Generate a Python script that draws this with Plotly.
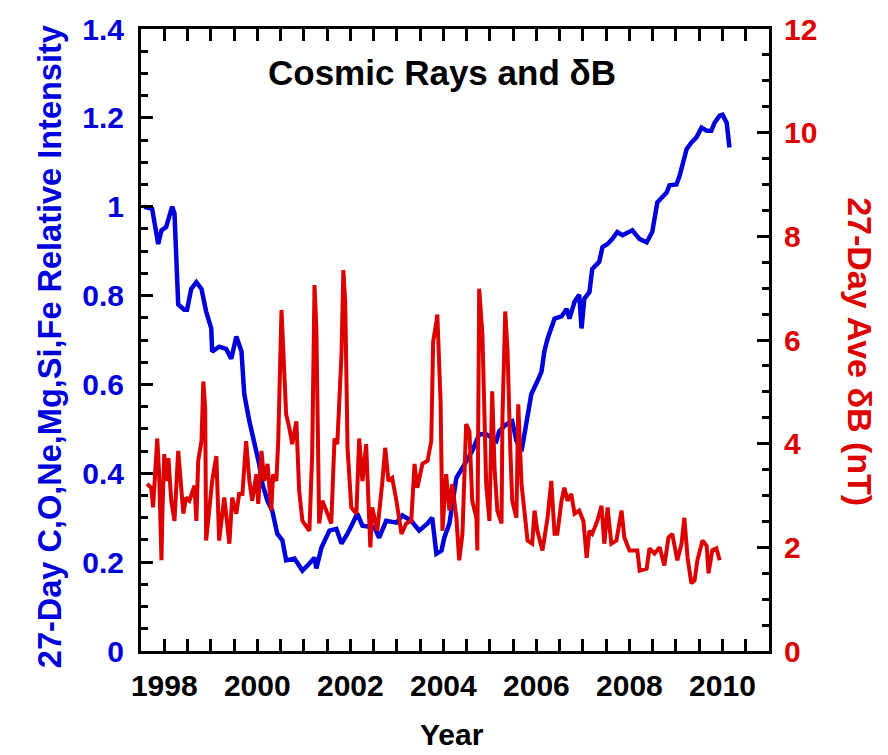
import plotly.graph_objects as go

# Cosmic ray relative intensity (blue, left axis)
cr_year = [1997.57, 1997.74, 1997.87, 1997.94, 1998.04, 1998.17, 1998.22, 1998.26, 1998.30, 1998.43,
           1998.49, 1998.58, 1998.69, 1998.80, 1998.90, 1999.01, 1999.03, 1999.18, 1999.33, 1999.44,
           1999.51, 1999.55, 1999.66, 1999.72, 1999.83, 1999.94, 2000.04, 2000.11, 2000.22, 2000.32,
           2000.43, 2000.54, 2000.62, 2000.80, 2000.97, 2001.12, 2001.23, 2001.27, 2001.38, 2001.55,
           2001.70, 2001.81, 2001.94, 2002.15, 2002.26, 2002.52, 2002.62, 2002.77, 2002.99, 2003.12,
           2003.31, 2003.48, 2003.66, 2003.76, 2003.85, 2003.96, 2004.02, 2004.13, 2004.28, 2004.41,
           2004.62, 2004.77, 2004.92, 2005.14, 2005.20, 2005.35, 2005.48, 2005.57, 2005.68, 2005.78,
           2005.89, 2006.02, 2006.11, 2006.17, 2006.24, 2006.39, 2006.54, 2006.65, 2006.71, 2006.82,
           2006.92, 2006.97, 2007.03, 2007.14, 2007.20, 2007.35, 2007.42, 2007.53, 2007.63, 2007.74,
           2007.85, 2008.06, 2008.22, 2008.37, 2008.49, 2008.60, 2008.80, 2008.86, 2009.01, 2009.08,
           2009.23, 2009.33, 2009.44, 2009.55, 2009.66, 2009.76, 2009.83, 2009.94, 2010.00, 2010.09,
           2010.15]
cr_intensity = [1.00, 0.995, 0.916, 0.947, 0.954, 1.00, 0.985, 0.876, 0.78, 0.768,
                0.768, 0.815, 0.83, 0.815, 0.764, 0.726, 0.674, 0.685, 0.68, 0.658,
                0.69, 0.708, 0.674, 0.578, 0.517, 0.466, 0.421, 0.376, 0.338, 0.316,
                0.264, 0.249, 0.204, 0.208, 0.181, 0.197, 0.21, 0.186, 0.233, 0.271,
                0.275, 0.242, 0.264, 0.309, 0.282, 0.278, 0.255, 0.293, 0.289, 0.305,
                0.293, 0.271, 0.287, 0.30, 0.219, 0.226, 0.255, 0.287, 0.39, 0.412,
                0.45, 0.488, 0.488, 0.473, 0.495, 0.51, 0.517, 0.473, 0.45, 0.51,
                0.578, 0.607, 0.629, 0.674, 0.703, 0.748, 0.753, 0.77, 0.748, 0.786,
                0.802, 0.726, 0.793, 0.808, 0.86, 0.876, 0.909, 0.916, 0.927, 0.943,
                0.936, 0.947, 0.927, 0.92, 0.943, 1.01, 1.032, 1.048, 1.05, 1.07,
                1.13, 1.144, 1.156, 1.178, 1.171, 1.171, 1.189, 1.205, 1.207, 1.189,
                1.133]

# 27-day average delta B (red, right axis)
db_year = [1997.63, 1997.72, 1997.76, 1997.85, 1997.89, 1997.94, 1997.96, 1998.00, 1998.04, 1998.09,
           1998.15, 1998.22, 1998.30, 1998.37, 1998.41, 1998.47, 1998.54, 1998.65, 1998.69, 1998.73,
           1998.80, 1998.84, 1998.88, 1998.90, 1998.97, 1999.03, 1999.12, 1999.18, 1999.29, 1999.40,
           1999.46, 1999.55, 1999.61, 1999.68, 1999.76, 1999.83, 1999.89, 1999.98, 2000.02, 2000.09,
           2000.15, 2000.22, 2000.30, 2000.34, 2000.41, 2000.45, 2000.52, 2000.56, 2000.62, 2000.69,
           2000.75, 2000.84, 2000.90, 2000.97, 2001.12, 2001.18, 2001.23, 2001.27, 2001.33, 2001.40,
           2001.48, 2001.59, 2001.66, 2001.72, 2001.81, 2001.85, 2001.89, 2001.94, 2002.02, 2002.13,
           2002.19, 2002.26, 2002.34, 2002.43, 2002.47, 2002.58, 2002.69, 2002.75, 2002.82, 2002.90,
           2002.99, 2003.10, 2003.20, 2003.31, 2003.38, 2003.44, 2003.55, 2003.66, 2003.74, 2003.78,
           2003.85, 2003.87, 2003.94, 2003.98, 2004.06, 2004.13, 2004.19, 2004.28, 2004.34, 2004.41,
           2004.49, 2004.56, 2004.62, 2004.71, 2004.73, 2004.77, 2004.84, 2004.92, 2004.99, 2005.05,
           2005.10, 2005.16, 2005.25, 2005.27, 2005.33, 2005.38, 2005.44, 2005.48, 2005.57, 2005.61,
           2005.68, 2005.74, 2005.81, 2005.91, 2005.96, 2006.02, 2006.13, 2006.24, 2006.32, 2006.39,
           2006.45, 2006.54, 2006.60, 2006.67, 2006.75, 2006.82, 2006.92, 2007.01, 2007.08, 2007.14,
           2007.20, 2007.31, 2007.40, 2007.46, 2007.53, 2007.61, 2007.72, 2007.83, 2007.89, 2008.00,
           2008.17, 2008.22, 2008.37, 2008.43, 2008.54, 2008.65, 2008.75, 2008.84, 2008.92, 2009.03,
           2009.12, 2009.18, 2009.25, 2009.33, 2009.40, 2009.46, 2009.57, 2009.66, 2009.70, 2009.78,
           2009.87, 2009.94]
db_value = [3.22, 3.15, 2.77, 4.10, 3.41, 1.75, 2.65, 3.80, 3.28, 3.72,
            2.90, 2.51, 3.86, 3.03, 2.65, 2.96, 2.90, 3.19, 2.51, 3.67,
            4.05, 5.20, 4.68, 2.13, 2.71, 3.28, 3.76, 2.13, 2.96, 2.07,
            2.96, 2.65, 3.03, 3.03, 4.05, 3.28, 2.90, 3.41, 2.84, 3.86,
            3.28, 3.61, 2.71, 3.41, 3.28, 4.05, 6.58, 5.59, 4.57, 4.30,
            3.99, 4.43, 3.09, 2.51, 2.32, 3.80, 7.06, 6.22, 2.46, 2.90,
            2.71, 2.46, 4.10, 3.99, 5.72, 7.35, 6.74, 3.92, 2.77, 2.65,
            4.10, 3.28, 3.99, 2.00, 2.77, 2.32, 3.28, 3.92, 3.28, 3.34,
            2.90, 2.26, 2.46, 2.51, 3.61, 3.15, 3.61, 3.67, 4.05, 5.97,
            6.35, 6.49, 4.82, 2.32, 3.41, 2.71, 3.22, 2.57, 1.75, 2.26,
            4.38, 4.24, 2.90, 2.57, 1.94, 6.99, 6.10, 3.22, 2.51, 5.01,
            3.53, 2.71, 2.46, 4.49, 6.55, 5.78, 3.86, 2.90, 2.57, 4.76,
            3.22, 2.77, 2.13, 2.07, 2.71, 2.32, 1.94, 2.57, 3.28, 2.26,
            2.26, 2.90, 3.15, 2.90, 3.03, 2.65, 2.71, 2.51, 1.80, 2.32,
            2.26, 2.51, 2.80, 2.07, 2.77, 2.07, 2.13, 2.71, 2.19, 1.94,
            1.94, 1.55, 1.59, 1.98, 1.88, 2.00, 1.65, 2.19, 2.26, 1.75,
            2.07, 2.57, 1.80, 1.31, 1.36, 1.75, 2.13, 2.03, 1.50, 1.94,
            1.98, 1.75]

x_tickvals = [1998, 2000, 2002, 2004, 2006, 2008, 2010]
x_ticktext = ["1998", "2000", "2002", "2004", "2006", "2008", "2010"]

BLUE = "#0000dc"
RED = "#dc0000"
FONT = "Liberation Sans, Arial, Helvetica, sans-serif"

fig = go.Figure()
fig.add_trace(go.Scatter(x=cr_year, y=cr_intensity, mode="lines",
                         line=dict(color=BLUE, width=4.5), yaxis="y", showlegend=False))
fig.add_trace(go.Scatter(x=db_year, y=db_value, mode="lines",
                         line=dict(color=RED, width=4), yaxis="y2", showlegend=False))

tick_common = dict(ticks="inside", tickwidth=3, tickcolor="black", showgrid=False,
                   zeroline=False, showline=True, linecolor="black", linewidth=3)

fig.update_layout(
    width=888, height=755,
    margin=dict(l=141, r=119, t=26, b=104, pad=0),
    plot_bgcolor="white", paper_bgcolor="white",
    font=dict(family=FONT),
    xaxis=dict(range=[1997.5, 2011.0], tickvals=x_tickvals, ticktext=x_ticktext,
               ticklen=12, mirror="allticks",
               tickfont=dict(size=30, color="black", weight="bold"),
               ticklabelstandoff=6,
               minor=dict(dtick=0.5, tick0=1998, ticks="inside", ticklen=6, tickwidth=3,
                          tickcolor="black", showgrid=False),
               **tick_common),
    yaxis=dict(range=[0, 1.4], dtick=0.2, tick0=0, ticklen=12,
               tickfont=dict(size=30, color=BLUE, weight="bold"),
               ticklabelstandoff=8,
               minor=dict(dtick=0.05, tick0=0, ticks="inside", ticklen=7, tickwidth=3,
                          tickcolor="black", showgrid=False),
               **tick_common),
    yaxis2=dict(range=[0, 12], dtick=2, tick0=0, ticklen=12, overlaying="y", side="right",
                tickfont=dict(size=30, color=RED, weight="bold"),
                ticklabelstandoff=6,
                minor=dict(dtick=0.5, tick0=0, ticks="inside", ticklen=7, tickwidth=3,
                           tickcolor="black", showgrid=False),
                **tick_common),
)

fig.add_annotation(text="Cosmic Rays and δB", x=0.48, y=0.93, xref="paper", yref="paper",
                   showarrow=False, xanchor="center", yanchor="middle",
                   font=dict(size=35, color="black", family=FONT, weight="bold"))
fig.add_annotation(text="27-Day C,O,Ne,Mg,Si,Fe Relative Intensity", x=-0.145, y=0.49,
                   xref="paper", yref="paper", showarrow=False, textangle=-90,
                   xanchor="center", yanchor="middle",
                   font=dict(size=32.5, color=BLUE, family=FONT, weight="bold"))
fig.add_annotation(text="27-Day Ave δB (nT)", x=1.145, y=0.482,
                   xref="paper", yref="paper", showarrow=False, textangle=90,
                   xanchor="center", yanchor="middle",
                   font=dict(size=34, color=RED, family=FONT, weight="bold"))
fig.add_annotation(text="Year", x=0.495, y=-0.164, xref="paper", yref="paper",
                   showarrow=False, xanchor="center", yanchor="bottom",
                   font=dict(size=30, color="black", family=FONT, weight="bold"))

fig.write_html("out.html")
